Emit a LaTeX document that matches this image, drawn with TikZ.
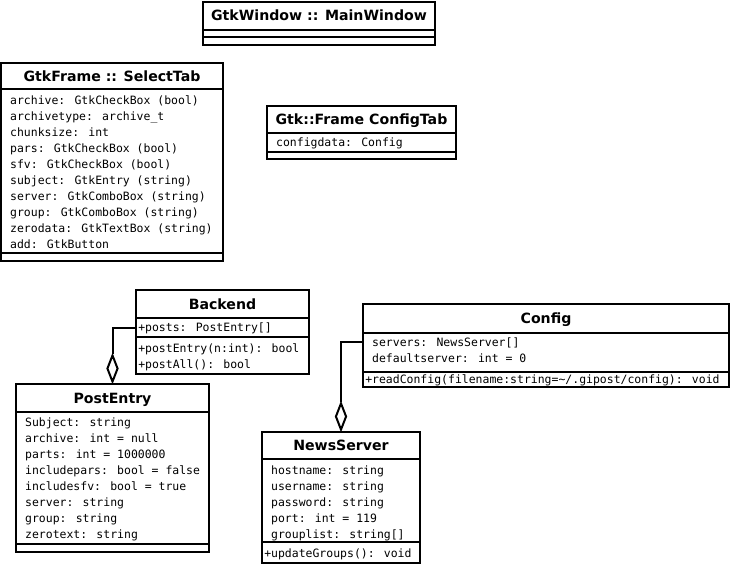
\documentclass[tikz,border=0pt]{standalone}
\usepackage{fontspec}
\setmainfont{DejaVu Sans}
\newfontfamily\membfont{DejaVu Sans Mono}
\usetikzlibrary{fit,shapes.geometric}
\newcommand{\vispad}{\hphantom{+}}
\begin{document}
\begin{tikzpicture}[x=0.75pt,y=-0.75pt,
  classbox/.style={draw, line width=1.5pt, inner sep=0pt, fill=white},
  rule/.style={line width=1.5pt},
  title/.style={anchor=base, inner sep=0pt, font=\bfseries\fontsize{10.6pt}{12pt}\selectfont},
  member/.style={anchor=base west, inner sep=0pt, font=\membfont\fontsize{8.6pt}{12pt}\selectfont},
  assoc/.style={line width=1.5pt},
  agg/.style={diamond, draw, fill=white, line width=1.5pt, inner sep=0pt,
    minimum width=8.25pt, minimum height=20.25pt, anchor=south}
]
\useasboundingbox (0,0) rectangle (733,564);

% ---- GtkWindow :: MainWindow
\node[classbox, fit={(203,2) (435,45)}] (mainwin) {};
\draw[rule] (203,30) -- (435,30);
\draw[rule] (203,37) -- (435,37);
\node[title] (mainwin-t) at (319,21) {GtkWindow :: MainWindow};

% ---- GtkFrame :: SelectTab
\node[classbox, fit={(1,63) (223,261)}] (selecttab) {};
\draw[rule] (1,89) -- (223,89);
\draw[rule] (1,253) -- (223,253);
\node[title] (selecttab-t) at (112,81) {GtkFrame :: SelectTab};
\node[member] (st1) at (3,104) {\vispad archive: GtkCheckBox (bool)};
\node[member] (st2) at (3,120) {\vispad archivetype: archive\_t};
\node[member] (st3) at (3,136) {\vispad chunksize: int};
\node[member] (st4) at (3,152) {\vispad pars: GtkCheckBox (bool)};
\node[member] (st5) at (3,168) {\vispad sfv: GtkCheckBox (bool)};
\node[member] (st6) at (3,184) {\vispad subject: GtkEntry (string)};
\node[member] (st7) at (3,200) {\vispad server: GtkComboBox (string)};
\node[member] (st8) at (3,216) {\vispad group: GtkComboBox (string)};
\node[member] (st9) at (3,232) {\vispad zerodata: GtkTextBox (string)};
\node[member] (st10) at (3,248) {\vispad add: GtkButton};

% ---- Gtk::Frame ConfigTab
\node[classbox, fit={(267,106) (456,159)}] (configtab) {};
\draw[rule] (267,133) -- (456,133);
\draw[rule] (267,152) -- (456,152);
\node[title] (configtab-t) at (361.5,124.5) {Gtk::Frame ConfigTab};
\node[member] (ct1) at (269,146) {\vispad configdata: Config};

% ---- Backend
\node[classbox, fit={(136,290) (309,374)}] (backend) {};
\draw[rule] (136,318) -- (309,318);
\draw[rule] (136,337) -- (309,337);
\node[title] (backend-t) at (222.5,309) {Backend};
\node[member] (bposts) at (138,331.5) {+posts: PostEntry[]};
\node[member] (bm1) at (138,352) {+postEntry(n:int): bool};
\node[member] (bm2) at (138,368) {+postAll(): bool};

% ---- Config
\node[classbox, fit={(363,304) (729,387)}] (config) {};
\draw[rule] (363,333) -- (729,333);
\draw[rule] (363,372) -- (729,372);
\node[title] (config-t) at (546,323.5) {Config};
\node[member] (cservers) at (365,346) {\vispad servers: NewsServer[]};
\node[member] (cdef) at (365,362) {\vispad defaultserver: int = 0};
\node[member] (cread) at (365,383.5) {+readConfig(filename:string=\textasciitilde/.gipost/config): void};

% ---- PostEntry
\node[classbox, fit={(16,384) (209,552)}] (postentry) {};
\draw[rule] (16,412) -- (209,412);
\draw[rule] (16,544) -- (209,544);
\node[title] (postentry-t) at (112.5,403) {PostEntry};
\node[member] (pe1) at (18,426) {\vispad Subject: string};
\node[member] (pe2) at (18,442) {\vispad archive: int = null};
\node[member] (pe3) at (18,458) {\vispad parts: int = 1000000};
\node[member] (pe4) at (18,474) {\vispad includepars: bool = false};
\node[member] (pe5) at (18,490) {\vispad includesfv: bool = true};
\node[member] (pe6) at (18,506) {\vispad server: string};
\node[member] (pe7) at (18,522) {\vispad group: string};
\node[member] (pe8) at (18,538) {\vispad zerotext: string};

% ---- NewsServer
\node[classbox, fit={(262,432) (420,563)}] (newsserver) {};
\draw[rule] (262,459) -- (420,459);
\draw[rule] (262,542) -- (420,542);
\node[title] (newsserver-t) at (341,450.5) {NewsServer};
\node[member] (ns1) at (264,474) {\vispad hostname: string};
\node[member] (ns2) at (264,490) {\vispad username: string};
\node[member] (ns3) at (264,506) {\vispad password: string};
\node[member] (ns4) at (264,522) {\vispad port: int = 119};
\node[member] (ns5) at (264,538) {\vispad grouplist: string[]};
\node[member] (ns6) at (264,557) {+updateGroups(): void};

% ---- aggregations
\node[agg] (agg-pe) at (postentry.north) {};
\node[agg] (agg-ns) at (newsserver.north) {};
\draw[assoc] (backend.west |- bposts) -| (agg-pe.north);
\draw[assoc] (config.west |- cservers) -| (agg-ns.north);
\end{tikzpicture}
\end{document}
